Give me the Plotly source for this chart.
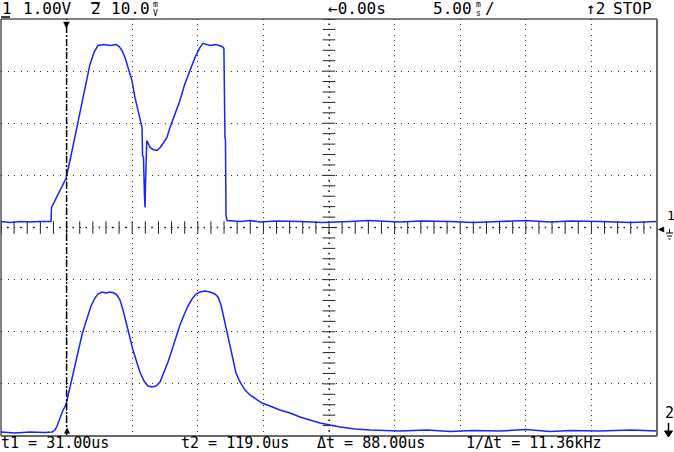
import plotly.graph_objects as go

# channel 1, 1.00 V/div  (time in us, volts)
t_ch1 = [-5.00, -4.31, -3.55, -2.79, -2.02, -1.27, -1.19, -1.15, -0.88, -0.50,
         -0.20, -0.05, 0.26, 0.64, 1.02, 1.17, 1.48, 1.78, 2.09, 2.39,
         2.85, 3.31, 3.77, 3.99, 4.22, 4.45, 4.68, 4.98, 5.21, 5.44,
         5.68, 5.75, 5.79, 5.86, 5.94, 5.98, 6.01, 6.05, 6.11, 6.36,
         6.59, 6.89, 7.13, 7.35, 7.65, 7.88, 8.26, 8.64, 9.02, 9.40,
         9.79, 10.17, 10.40, 10.93, 11.39, 11.84, 11.99, 12.07, 12.11, 12.15,
         12.23, 13.22, 14.00, 14.74, 16.00, 17.79, 19.50, 21.60, 23.00, 25.41,
         27.00, 29.22, 31.00, 33.03, 35.00, 36.84, 38.50, 40.65, 43.00, 45.00]
v_ch1 = [0.115, 0.096, 0.115, 0.106, 0.115, 0.106, 0.115, 0.384, 0.518, 0.710,
         0.883, 0.940, 1.286, 1.747, 2.207, 2.438, 2.821, 3.129, 3.359, 3.493,
         3.512, 3.493, 3.512, 3.474, 3.397, 3.263, 3.071, 2.821, 2.495, 2.246,
         1.996, 1.919, 1.382, 1.344, 0.576, 0.384, 0.806, 1.478, 1.670, 1.536,
         1.497, 1.478, 1.536, 1.612, 1.727, 1.919, 2.188, 2.438, 2.764, 3.013,
         3.263, 3.455, 3.532, 3.493, 3.512, 3.474, 3.436, 1.727, 1.670, 0.230,
         0.134, 0.115, 0.134, 0.106, 0.125, 0.115, 0.096, 0.115, 0.134, 0.106,
         0.125, 0.115, 0.096, 0.115, 0.134, 0.106, 0.125, 0.115, 0.096, 0.115]

# channel 2, 10.0 mV/div
t_ch2 = [-5.00, -3.93, -2.79, -1.65, -1.11, -0.88, -0.73, -0.50, -0.27, -0.05,
         0.26, 0.49, 0.72, 0.95, 1.17, 1.40, 1.63, 1.86, 2.16, 2.39,
         2.70, 3.00, 3.31, 3.61, 3.84, 4.07, 4.30, 4.53, 4.83, 5.06,
         5.37, 5.59, 5.90, 6.20, 6.51, 6.81, 7.12, 7.42, 7.73, 8.03,
         8.34, 8.64, 8.95, 9.25, 9.56, 9.86, 10.17, 10.55, 10.93, 11.31,
         11.54, 11.77, 11.99, 12.22, 12.45, 12.68, 12.91, 13.22, 13.60, 13.98,
         14.44, 14.89, 15.50, 16.26, 17.03, 17.79, 18.55, 19.31, 20.08, 20.84,
         21.98, 23.13, 25.41, 27.50, 29.22, 31.00, 33.03, 35.00, 36.84, 38.50,
         40.65, 43.00, 45.00]
mv_ch2 = [0.77, 0.58, 0.77, 0.67, 0.77, 1.15, 1.92, 3.45, 4.99, 5.95,
          9.40, 12.09, 14.58, 17.07, 19.38, 21.29, 23.21, 24.94, 26.47, 27.24,
          27.63, 27.43, 27.63, 27.43, 27.05, 26.09, 24.17, 21.87, 18.80, 16.50,
          14.00, 12.28, 10.55, 9.59, 9.40, 9.59, 10.36, 12.09, 14.20, 16.50,
          18.99, 21.29, 23.21, 24.94, 26.28, 27.24, 27.63, 27.82, 27.63, 27.24,
          26.67, 25.13, 22.64, 19.95, 16.88, 14.20, 12.09, 10.36, 8.82, 7.87,
          7.10, 6.33, 5.76, 4.99, 4.41, 3.65, 3.07, 2.49, 2.11, 1.73,
          1.34, 1.15, 0.96, 1.15, 0.86, 1.06, 0.96, 1.25, 0.86, 1.06,
          0.96, 1.15, 0.96]

t1_cursor = 0.0
readout = ['t1 = 31.00us', 't2 = 119.0us', '\u0394t = 88.00us', '1/\u0394t = 11.36kHz']

BLUE = 'rgb(25,35,255)'
FONT = 'DejaVu Sans Mono'


# pixel -> paper helpers (plot area is x 1..657, y 19..436)
def px(X):
    return (X - 1) / 656.0


def py(Y):
    return (436 - Y) / 417.0


def label(text, X, Y, size=16, anchor='left'):
    return dict(text=text, xref='paper', yref='paper', x=px(X), y=py(Y),
                xanchor=anchor, yanchor='middle', showarrow=False, borderpad=0,
                font=dict(family=FONT, size=size, color='black'))


def seg(x0, y0, x1, y1, color='black', width=1):
    return dict(type='line', xref='paper', yref='paper', x0=px(x0), x1=px(x1),
                y0=py(y0), y1=py(y1), line=dict(color=color, width=width))


fig = go.Figure()

# centre cross: ticks every 1/5 div with dots between
h_ticks = [-5 + i for i in range(51)]
h_dots = [-4.5 + i for i in range(50)]
v_ticks = [-4 + 0.2 * i for i in range(41)]
v_dots = [-3.9 + 0.2 * i for i in range(40)]
tick_style = dict(color='#222', width=1)
fig.add_trace(go.Scatter(x=h_ticks, y=[0] * len(h_ticks), mode='markers',
                         marker=dict(symbol='line-ns', size=9, line=tick_style),
                         hoverinfo='skip'))
fig.add_trace(go.Scatter(x=[20] * len(v_ticks), y=v_ticks, mode='markers',
                         marker=dict(symbol='line-ew', size=9, line=tick_style),
                         hoverinfo='skip'))
fig.add_trace(go.Scatter(x=h_dots + [20] * len(v_dots), y=[0] * len(h_dots) + v_dots,
                         mode='markers', marker=dict(symbol='square', size=1.5, color='#222'),
                         hoverinfo='skip'))

fig.add_trace(go.Scatter(x=t_ch1, y=v_ch1, mode='lines',
                         line=dict(color=BLUE, width=1.5), hoverinfo='skip'))
fig.add_trace(go.Scatter(x=t_ch2, y=mv_ch2, yaxis='y2', mode='lines',
                         line=dict(color=BLUE, width=1.5), hoverinfo='skip'))

# down arrow under the ch2 marker
arrow_path = 'M {} {} L {} {} L {} {} Z'.format(px(664.5), py(431), px(672.5), py(431),
                                                px(668.5), py(437))

shapes = [
    # cursor t1
    dict(type='line', xref='x', yref='paper', x0=t1_cursor, x1=t1_cursor, y0=0, y1=1,
         line=dict(color='black', width=1.5, dash='7px,2px,2px,2px')),
    # frame
    seg(1, 19, 1, 436),
    seg(1, 19, 657, 19),
    seg(657, 19, 657, 436, color='#6a6a6a', width=2),
    seg(1, 436, 657, 436, color='#6a6a6a', width=2),
    # underline under channel "1" and bar over "2"
    seg(1, 17, 10, 17, width=1.5),
    seg(91, 3, 100, 3, width=1.5),
    # ground symbol for ch1
    seg(669.5, 229, 669.5, 233),
    seg(666, 233, 673, 233),
    seg(667, 236, 672, 236),
    seg(668.5, 239, 670.5, 239),
    # ch2 offset arrow
    seg(668.5, 423, 668.5, 432, width=1.5),
    dict(type='path', xref='paper', yref='paper', path=arrow_path,
         fillcolor='black', line=dict(color='black', width=1)),
]

annotations = [
    # header
    label('1', 1, 9),
    label('1.00V', 22, 9),
    label('2', 90, 9),
    label('10.0', 110, 9),
    label('m', 152, 5, size=8),
    label('V', 152, 13, size=8),
    label('\u21900.00s', 327, 9),
    label('5.00', 432, 9),
    label('m', 475, 5, size=8),
    label('s', 475, 13, size=8),
    label('/', 484, 9),
    label('\u21912', 585, 9),
    label('STOP', 612, 9),
    # cursor readout
    label(readout[0], 0, 443, size=15),
    label(readout[1], 180, 443, size=15),
    label(readout[2], 316, 443, size=15),
    label(readout[3], 465, 443, size=15),
    # cursor markers
    label('\u25bc', 66.6, 24, size=11, anchor='center'),
    label('\u25b2', 66.6, 429, size=10, anchor='center'),
    # channel markers on the right
    label('1', 666, 216, size=13),
    label('\u25c0', 657, 228, size=10),
    label('2', 664, 413, size=15),
]

fig.update_layout(
    width=674, height=452,
    margin=dict(l=1, r=17, t=19, b=16, autoexpand=False),
    paper_bgcolor='white', plot_bgcolor='white',
    showlegend=False,
    xaxis=dict(range=[-5, 45], tick0=0, dtick=5, showgrid=True, gridcolor='#333',
               gridwidth=1, griddash='1px,4.21px', zeroline=False, showline=False,
               ticks='', showticklabels=False),
    yaxis=dict(range=[-4, 4], tick0=0, dtick=1, showgrid=True, gridcolor='#333',
               gridwidth=1, griddash='1px,5.56px', zeroline=False, showline=False,
               ticks='', showticklabels=False),
    yaxis2=dict(range=[0, 80], overlaying='y', visible=False),
    shapes=shapes,
    annotations=annotations,
)

# page body has a default 8px margin, drop it so the figure fills the window
fig.write_html("out.html", config={'displayModeBar': False},
               post_script="document.body.style.margin='0';")
